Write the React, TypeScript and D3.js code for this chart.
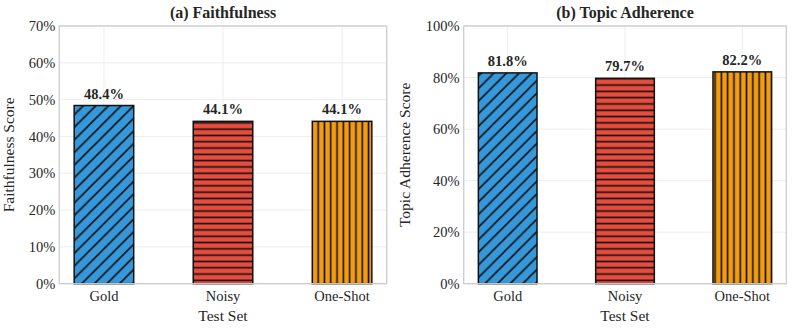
import React from "react";
import * as d3 from "d3";

const categories = ["Gold", "Noisy", "One-Shot"];
const faithfulness = [48.4, 44.1, 44.1];
const topicAdherence = [81.8, 79.7, 82.2];
const faithTicks = [0, 10, 20, 30, 40, 50, 60, 70];
const topicTicks = [0, 20, 40, 60, 80, 100];
const colors = ["#3498db", "#e74c3c", "#f39c12"];
const patterns = ["diag", "horiz", "vert"];

const W = 797;
const H = 330;
const TOP = 26;
const BOTTOM = 283.7;
const FONT = '"Liberation Serif", "Times New Roman", serif';
const TXT = "#262626";

type PanelProps = {
  x0: number;
  x1: number;
  title: string;
  ylabel: string;
  values: number[];
  ticks: number[];
  ymax: number;
  ylabelX: number;
};

function Panel({ x0, x1, title, ylabel, values, ticks, ymax, ylabelX }: PanelProps) {
  const x = d3.scaleLinear().domain([-0.375, 2.375]).range([x0, x1]);
  const y = d3.scaleLinear().domain([0, ymax]).range([BOTTOM, TOP]);
  const bw = x(0.5) - x(0);
  const cx = (x0 + x1) / 2;
  const cy = (TOP + BOTTOM) / 2;
  const tickStyle = { fontFamily: FONT, fontSize: 14.5, fill: TXT };
  return (
    <g>
      {ticks.map((t) => (
        <line key={"h" + t} x1={x0} x2={x1} y1={y(t)} y2={y(t)} stroke="#ebebeb" strokeWidth={0.9} />
      ))}
      {categories.map((c, i) => (
        <line key={"v" + c} x1={x(i)} x2={x(i)} y1={TOP} y2={BOTTOM} stroke="#ebebeb" strokeWidth={0.9} />
      ))}
      {values.map((v, i) => (
        <g key={"b" + i}>
          <rect x={x(i) - bw / 2} y={y(v)} width={bw} height={BOTTOM - y(v)} fill={colors[i]} />
          <rect x={x(i) - bw / 2} y={y(v)} width={bw} height={BOTTOM - y(v)} fill={`url(#${patterns[i]})`} />
          <rect x={x(i) - bw / 2} y={y(v)} width={bw} height={BOTTOM - y(v)} fill="none" stroke="#111" strokeWidth={1.5} />
          <text x={x(i)} y={y(v) - 7} textAnchor="middle" style={{ fontFamily: FONT, fontWeight: "bold", fontSize: 14.5, fill: TXT }}>
            {v.toFixed(1) + "%"}
          </text>
        </g>
      ))}
      <rect x={x0} y={TOP} width={x1 - x0} height={BOTTOM - TOP} fill="none" stroke="#cccccc" strokeWidth={1.3} />
      {ticks.map((t) => (
        <text key={"t" + t} x={x0 - 4} y={y(t)} dy="0.35em" textAnchor="end" style={tickStyle}>
          {t + "%"}
        </text>
      ))}
      {categories.map((c, i) => (
        <text key={"c" + c} x={x(i)} y={301} textAnchor="middle" style={tickStyle}>
          {c}
        </text>
      ))}
      <text x={cx} y={321} textAnchor="middle" style={{ fontFamily: FONT, fontSize: 15.5, fill: TXT }}>
        Test Set
      </text>
      <text x={cx} y={18} textAnchor="middle" style={{ fontFamily: FONT, fontWeight: "bold", fontSize: 16, fill: TXT }}>
        {title}
      </text>
      <text
        transform={`translate(${ylabelX},${cy}) rotate(-90)`}
        textAnchor="middle"
        style={{ fontFamily: FONT, fontSize: 15.5, fill: TXT }}
      >
        {ylabel}
      </text>
    </g>
  );
}

export default function App() {
  const d = 12.6;
  const s = 6.3;
  return (
    <svg width={W} height={H} style={{ position: "absolute", left: 0, top: 0, background: "#fff" }}>
      <defs>
        <pattern id="diag" patternUnits="userSpaceOnUse" width={d} height={d}>
          <path
            d={`M0,${d} L${d},0 M${-d / 2},${d / 2} L${d / 2},${-d / 2} M${d / 2},${d * 1.5} L${d * 1.5},${d / 2}`}
            stroke="#111"
            strokeWidth={1.6}
          />
        </pattern>
        <pattern id="horiz" patternUnits="userSpaceOnUse" width={s} height={s}>
          <line x1={0} x2={s} y1={s / 2} y2={s / 2} stroke="#111" strokeWidth={1.6} />
        </pattern>
        <pattern id="vert" patternUnits="userSpaceOnUse" width={s} height={s}>
          <line y1={0} y2={s} x1={s / 2} x2={s / 2} stroke="#111" strokeWidth={1.6} />
        </pattern>
      </defs>
      <rect width={W} height={H} fill="#fff" />
      <Panel
        x0={59.3}
        x1={386.7}
        title="(a) Faithfulness"
        ylabel="Faithfulness Score"
        values={faithfulness}
        ticks={faithTicks}
        ymax={70}
        ylabelX={14}
      />
      <Panel
        x0={463.7}
        x1={786.3}
        title="(b) Topic Adherence"
        ylabel="Topic Adherence Score"
        values={topicAdherence}
        ticks={topicTicks}
        ymax={100}
        ylabelX={410}
      />
    </svg>
  );
}
